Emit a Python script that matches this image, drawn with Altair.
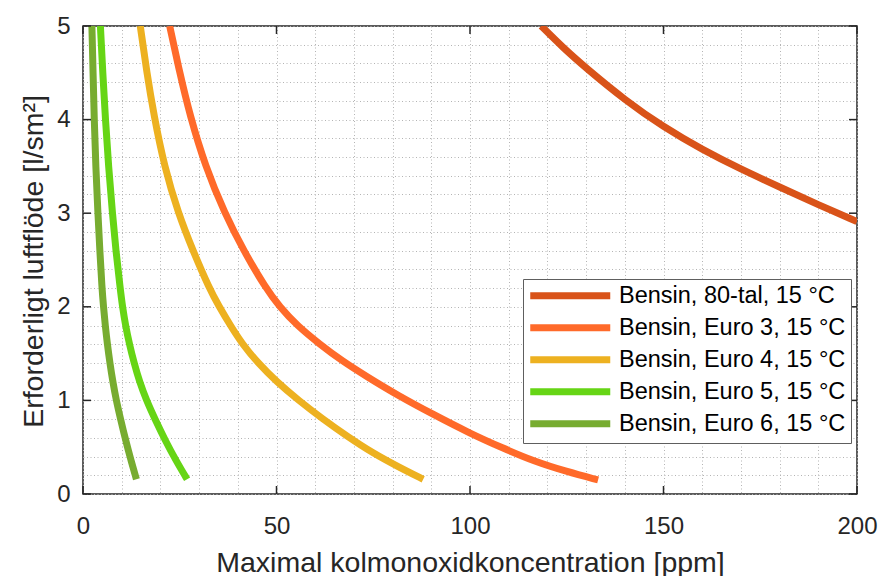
import altair as alt
import pandas as pd

# ---------------- data ----------------
SERIES = [
    "Bensin, 80-tal, 15 °C",
    "Bensin, Euro 3, 15 °C",
    "Bensin, Euro 4, 15 °C",
    "Bensin, Euro 5, 15 °C",
    "Bensin, Euro 6, 15 °C",
]
COLORS = ["#D95319", "#FF6A2A", "#EDB120", "#66D515", "#77AC30"]

x_80 = [118.4, 124.0, 130.0, 140.0, 150.0, 160.0, 170.0, 180.0, 190.0, 200.0]
y_80 = [5.0, 4.77, 4.55, 4.21, 3.92, 3.68, 3.47, 3.28, 3.09, 2.91]

x_e3 = [22.4, 25.0, 27.6, 31.6, 36.6, 41.5, 47.2, 50.8, 55.3, 61.2,
        67.0, 73.5, 81.5, 90.5, 99.9, 108.5, 116.5, 124.9, 133.1]
y_e3 = [5.0, 4.5, 4.05, 3.5, 3.0, 2.6, 2.2, 2.0, 1.8, 1.6,
        1.42, 1.25, 1.05, 0.85, 0.65, 0.49, 0.35, 0.24, 0.15]

x_e4 = [14.8, 16.5, 18.3, 21.0, 24.6, 28.4, 32.6, 35.2, 38.1, 41.2,
        45.2, 50.0, 55.7, 62.0, 68.5, 74.8, 81.5, 87.9]
y_e4 = [5.0, 4.5, 4.05, 3.5, 3.0, 2.6, 2.2, 2.0, 1.8, 1.6,
        1.4, 1.2, 1.0, 0.8, 0.61, 0.44, 0.29, 0.157]

x_e5 = [4.5, 5.1, 5.8, 6.6, 7.6, 8.5, 9.6, 10.2, 11.0, 12.0,
        13.2, 14.6, 16.4, 18.6, 21.4, 24.0, 26.9]
y_e5 = [5.0, 4.5, 4.0, 3.5, 3.0, 2.6, 2.2, 2.0, 1.8, 1.6,
        1.4, 1.2, 1.0, 0.8, 0.56, 0.36, 0.157]

x_e6 = [2.3, 2.6, 2.9, 3.3, 3.85, 4.35, 4.9, 5.3, 5.75, 6.3, 6.95, 7.7,
        8.6, 9.7, 11.1, 12.4, 13.8]
y_e6 = [5.0, 4.5, 4.0, 3.5, 3.0, 2.6, 2.2, 2.0, 1.8, 1.6, 1.4, 1.2,
        1.0, 0.8, 0.56, 0.36, 0.157]

X_MAJOR = [0, 50, 100, 150, 200]
Y_MAJOR = [0, 1, 2, 3, 4, 5]
X_GRID = list(range(0, 201, 10))
Y_GRID = [round(0.2 * i, 1) for i in range(26)]

X_TITLE = "Maximal kolmonoxidkoncentration [ppm]"
Y_TITLE = "Erforderligt luftflöde [l/sm²]"

# ---------------- build tables ----------------
rows = []
for name, xs, ys in zip(SERIES, [x_80, x_e3, x_e4, x_e5, x_e6],
                        [y_80, y_e3, y_e4, y_e5, y_e6]):
    for a, b in zip(xs, ys):
        rows.append({"serie": name, "x": a, "y": b})
df = pd.DataFrame(rows)

W, H = 774, 468
TICK_PX = 8
tlx = TICK_PX / W * 200
tly = TICK_PX / H * 5
tick_rows = []
for v in X_MAJOR:
    tick_rows.append({"x": v, "x2": v, "y": 0, "y2": tly})
    tick_rows.append({"x": v, "x2": v, "y": 5, "y2": 5 - tly})
for v in Y_MAJOR:
    tick_rows.append({"x": 0, "x2": tlx, "y": v, "y2": v})
    tick_rows.append({"x": 200, "x2": 200 - tlx, "y": v, "y2": v})
ticks_df = pd.DataFrame(tick_rows)

FONT = "Liberation Sans"
TXT = "#262626"
GRID = "#B4B4B4"

x_scale = alt.Scale(domain=[0, 200], nice=False, zero=False)
y_scale = alt.Scale(domain=[0, 5], nice=False, zero=False)

x_axis = alt.Axis(
    values=X_GRID, grid=True, gridColor=GRID, gridDash=[1, 2.5], gridWidth=1,
    ticks=False, domain=False,
    labelExpr="datum.value % 50 == 0 ? datum.label : ''",
    labelFlush=False, labelOverlap=False, labelPadding=20,
    labelFont=FONT, labelFontSize=24, labelColor=TXT,
    title=X_TITLE, titleFont=FONT, titleFontSize=28.5, titleFontWeight="normal",
    titleColor=TXT, titleY=77, titleBaseline="alphabetic",
)
y_axis = alt.Axis(
    values=Y_GRID, grid=True, gridColor=GRID, gridDash=[1, 2.5], gridWidth=1,
    ticks=False, domain=False,
    labelExpr="abs(datum.value - round(datum.value)) < 0.001 ? format(datum.value, 'd') : ''",
    labelOverlap=False, labelPadding=13, labelBaseline="middle",
    labelFont=FONT, labelFontSize=24, labelColor=TXT,
    title=Y_TITLE, titleFont=FONT, titleFontSize=28.5, titleFontWeight="normal",
    titleColor=TXT, titleX=-41, titleY=235, titleBaseline="alphabetic",
    titleAngle=270,
)

lines = alt.Chart(df).mark_line(
    strokeWidth=7, strokeCap="butt", interpolate="basis", clip=True
).encode(
    x=alt.X("x:Q", scale=x_scale, axis=x_axis),
    y=alt.Y("y:Q", scale=y_scale, axis=y_axis),
    color=alt.Color(
        "serie:N",
        scale=alt.Scale(domain=SERIES, range=COLORS),
        sort=SERIES,
        title=None,
        legend=alt.Legend(
            orient="none", legendX=440, legendY=253,
            symbolType="M-5,0H5", symbolSize=256, symbolStrokeWidth=7,
            symbolOffset=30.5, labelOffset=37,
            labelFont=FONT, labelFontSize=23.5, labelColor="#000000",
            labelLimit=0, rowPadding=3, padding=5,
            fillColor="#FFFFFF", strokeColor="#5E5E5E",
        ),
    ),
    order="x:Q",
)

ticks = alt.Chart(ticks_df).mark_rule(color=TXT, strokeWidth=1.5).encode(
    x=alt.X("x:Q", scale=x_scale, axis=x_axis), x2="x2:Q",
    y=alt.Y("y:Q", scale=y_scale, axis=y_axis), y2="y2:Q",
)

chart = alt.layer(lines, ticks).properties(
    width=W, height=H,
    autosize=alt.AutoSizeParams(type="none"),
    padding={"left": 83, "top": 26, "right": 23, "bottom": 82},
    background="#FFFFFF",
).configure_view(stroke=TXT, strokeWidth=1.5)

chart.save("out.html", embed_options={"renderer": "svg", "actions": False})
